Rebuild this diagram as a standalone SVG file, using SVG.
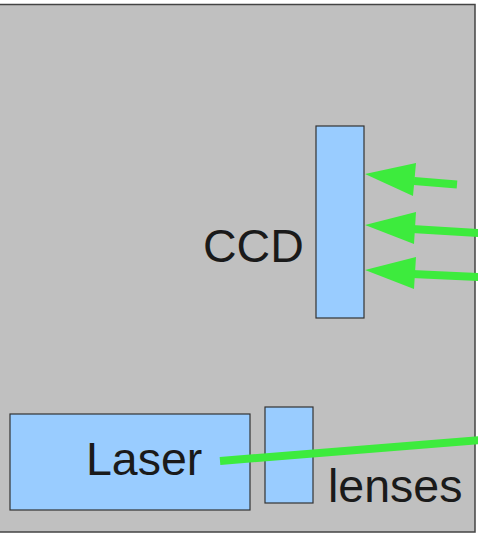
<svg xmlns="http://www.w3.org/2000/svg" width="478" height="533" viewBox="0 0 478 533">
<defs>
<style>
.box{fill:#99ccff;stroke:#333333;stroke-width:1.2}
.lbl{font-family:"Liberation Sans",Arial,sans-serif;font-size:46.5px;fill:#1a1a1a}
.beam{stroke:#3deb3d;stroke-width:8;fill:none}
.head{fill:#3deb3d}
</style>
</defs>
<rect id="background" x="-2" y="4.5" width="477" height="527.5" fill="#c0c0c0" stroke="#444444" stroke-width="1.5"/>
<g id="ccd">
<rect class="box" x="316" y="126" width="48" height="192"/>
<text class="lbl" x="203" y="262">CCD</text>
</g>
<g id="laser">
<rect class="box" x="10" y="414" width="240" height="96"/>
<text class="lbl" x="86" y="475">Laser</text>
</g>
<g id="lenses">
<rect class="box" x="265" y="407" width="48" height="96"/>
<text class="lbl" x="328" y="502">lenses</text>
</g>
<g id="connectors">
<line class="beam" x1="457" y1="184.5" x2="414" y2="181"/>
<polygon class="head" points="365,174 416,163 413,196"/>
<line class="beam" x1="480" y1="233" x2="412" y2="229"/>
<polygon class="head" points="365,225 416,212 414,244"/>
<line class="beam" x1="480" y1="277" x2="412" y2="274"/>
<polygon class="head" points="365,270 416,257 414,289"/>
<line class="beam" x1="220" y1="461" x2="480" y2="440"/>
</g>
</svg>
